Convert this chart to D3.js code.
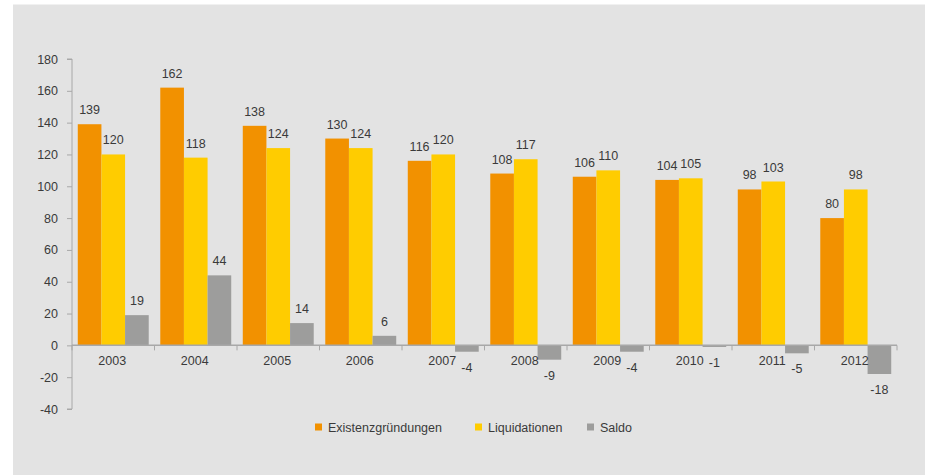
<!DOCTYPE html>
<html>
<head>
<meta charset="utf-8">
<script src="https://cdn.jsdelivr.net/npm/d3@7/dist/d3.min.js"></script>
<style>
  html, body { margin: 0; padding: 0; background: #ffffff; }
  svg { display: block; }
  text { font-family: "Liberation Sans", Arial, sans-serif; fill: #3a3a3a; }
</style>
</head>
<body>
<div id="chart"></div>
<script>
// Firm foundations vs. liquidations per year, and the resulting balance
const years = ["2003", "2004", "2005", "2006", "2007", "2008", "2009", "2010", "2011", "2012"];
const seriesNames = ["Existenzgründungen", "Liquidationen", "Saldo"];
const gruendungen = [139, 162, 138, 130, 116, 108, 106, 104, 98, 80];
const liquidationen = [120, 118, 124, 124, 120, 117, 110, 105, 103, 98];
const saldo = [19, 44, 14, 6, -4, -9, -4, -1, -5, -18];
const yTicks = [-40, -20, 0, 20, 40, 60, 80, 100, 120, 140, 160, 180];
const colors = ["#f29100", "#ffcc00", "#9d9d9c"];

const W = 925, H = 475;
const svg = d3.select("#chart").append("svg").attr("width", W).attr("height", H);

svg.append("rect").attr("x", 13).attr("y", 4.5).attr("width", W - 13).attr("height", H - 4.5)
  .attr("fill", "#e3e3e3");

const plot = { left: 72, right: 897, top: 59, bottom: 409 };

const y = d3.scaleLinear().domain([-40, 180]).range([plot.bottom, plot.top]);
const x0 = d3.scaleBand().domain(years).range([plot.left, plot.right])
  .paddingInner(0.14).paddingOuter(0.07);
const x1 = d3.scaleBand().domain(seriesNames).range([0, x0.bandwidth()]);

const data = years.map((yr, i) => ({
  year: yr,
  values: [gruendungen[i], liquidationen[i], saldo[i]]
}));

// bars
const groups = svg.append("g").selectAll("g").data(data).join("g")
  .attr("transform", d => `translate(${x0(d.year)},0)`);

groups.selectAll("rect").data(d => d.values.map((v, k) => ({ v, k, name: seriesNames[k] })))
  .join("rect")
  .attr("x", d => x1(d.name))
  .attr("width", x1.bandwidth())
  .attr("y", d => y(Math.max(0, d.v)))
  .attr("height", d => Math.abs(y(d.v) - y(0)))
  .attr("fill", d => colors[d.k]);

// value labels
groups.selectAll("text.val").data(d => d.values.map((v, k) => ({ v, k, name: seriesNames[k] })))
  .join("text")
  .attr("class", "val")
  .attr("x", d => x1(d.name) + x1.bandwidth() / 2)
  .attr("y", d => d.v >= 0 ? y(d.v) - 10 : y(d.v) + 20)
  .attr("text-anchor", "middle")
  .attr("font-size", 12.5)
  .text(d => String(d.v));

// y axis
const axisColor = "#a8a8a8";
const yAxis = svg.append("g").attr("transform", `translate(${plot.left},0)`)
  .call(d3.axisLeft(y).tickValues(yTicks).tickSize(5).tickPadding(9).tickFormat(d => String(d)));
yAxis.select(".domain").attr("stroke", axisColor).attr("d", `M-5,${y(-40)}H0V${y(180)}H-5`);
yAxis.selectAll(".tick line").attr("stroke", axisColor);
yAxis.selectAll(".tick text").attr("font-size", 12.5).attr("font-family", "Liberation Sans, Arial, sans-serif").attr("fill", "#3a3a3a");

// x axis on the zero line, ticks between categories
const xAxis = svg.append("g").attr("transform", `translate(0,${y(0)})`);
xAxis.append("line").attr("x1", plot.left).attr("x2", plot.right)
  .attr("stroke", axisColor).attr("stroke-width", 1.5);
const boundaries = years.map(yr => x0(yr) - x0.step() * x0.paddingInner() / 2)
  .concat([plot.right]);
boundaries[0] = plot.left;
xAxis.selectAll("line.tk").data(boundaries).join("line").attr("class", "tk")
  .attr("x1", d => d).attr("x2", d => d).attr("y1", 0).attr("y2", 5)
  .attr("stroke", axisColor);
xAxis.selectAll("text").data(years).join("text")
  .attr("x", d => x0(d) + x0.bandwidth() / 2 - 1)
  .attr("y", 20)
  .attr("text-anchor", "middle")
  .attr("font-size", 12.5)
  .text(d => d);

// legend
const legendItems = [
  { name: seriesNames[0], x: 315 },
  { name: seriesNames[1], x: 475 },
  { name: seriesNames[2], x: 587 }
];
const legend = svg.append("g");
legendItems.forEach((it, k) => {
  legend.append("rect").attr("x", it.x).attr("y", 423.5).attr("width", 7).attr("height", 7)
    .attr("fill", colors[k]);
  legend.append("text").attr("x", it.x + 13).attr("y", 431.5)
    .attr("font-size", 12.5).text(it.name);
});
</script>
</body>
</html>
